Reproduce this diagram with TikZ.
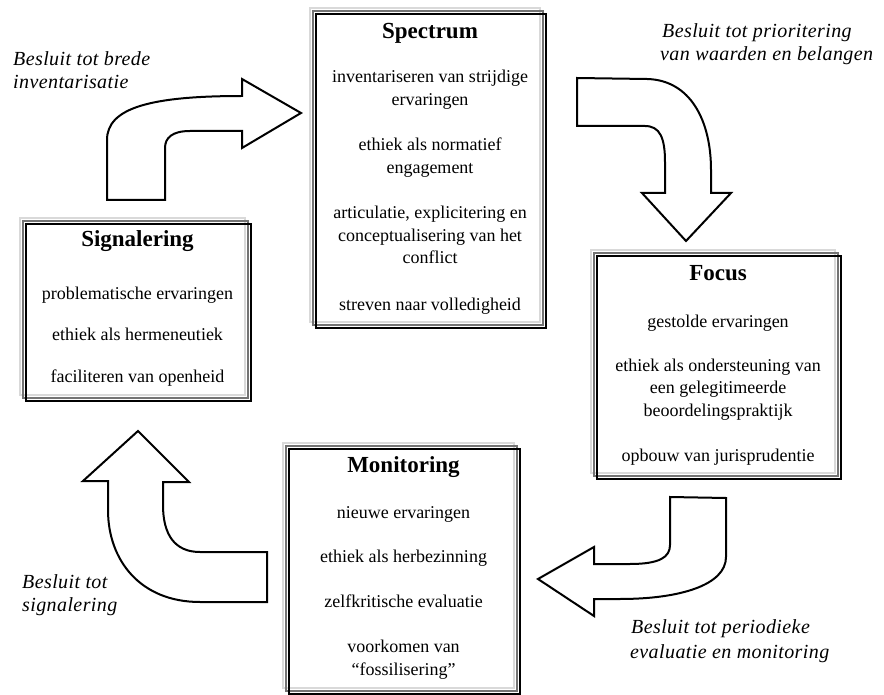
\documentclass[tikz,border=0pt]{standalone}
\usepackage{fontspec}
\setmainfont{Liberation Serif}
\begin{document}
\begin{tikzpicture}[x=1pt,y=-1pt,
  panel/.style={draw=black, line width=1.8pt, inner sep=0pt, fill=none,
    preaction={draw=black!15, line width=2pt, transform canvas={shift={(-6pt,6pt)}}},
    preaction={draw=black!55, line width=1.5pt, transform canvas={shift={(-3pt,3pt)}}}},
  blockarrow/.style={draw=black, line width=2pt, fill=white, line join=miter},
  body/.style={font=\fontsize{18}{22}\selectfont, anchor=base, inner sep=0pt},
  head/.style={font=\fontsize{23}{27}\selectfont\bfseries, anchor=base, inner sep=0pt},
  lbl/.style={font=\fontsize{20}{24}\selectfont\itshape\addfontfeatures{LetterSpace=2}, anchor=base west, inner sep=0pt}
]
\fill[white] (0,0) rectangle (884,695);
\useasboundingbox (0,0) rectangle (884,695);

% ---------- boxes ----------
\node[panel, anchor=north west, minimum width=230pt, minimum height=314pt] (spectrum) at (315,13) {};
\node[panel, anchor=north west, minimum width=225pt, minimum height=177pt] (signal) at (25,223) {};
\node[panel, anchor=north west, minimum width=244pt, minimum height=223pt] (focus) at (596,255) {};
\node[panel, anchor=north west, minimum width=231pt, minimum height=245pt] (monitor) at (288,448) {};

% ---------- Spectrum text ----------
\node[head] (sp0) at (430,39) {Spectrum};
\node[body] (sp1) at (430,83) {inventariseren van strijdige};
\node[body] (sp2) at (430,105.5) {ervaringen};
\node[body] (sp3) at (430,151) {ethiek als normatief};
\node[body] (sp4) at (430,173.5) {engagement};
\node[body] (sp5) at (430,219) {articulatie, explicitering en};
\node[body] (sp6) at (430,241.5) {conceptualisering van het};
\node[body] (sp7) at (430,264) {conflict};
\node[body] (sp8) at (430,310) {streven naar volledigheid};

% ---------- Signalering text ----------
\node[head] (si0) at (137.5,247) {Signalering};
\node[body] (si1) at (137.5,300) {problematische ervaringen};
\node[body] (si2) at (137.5,341) {ethiek als hermeneutiek};
\node[body] (si3) at (137.5,382) {faciliteren van openheid};

% ---------- Focus text ----------
\node[head] (fo0) at (718,280) {Focus};
\node[body] (fo1) at (718,327) {gestolde ervaringen};
\node[body] (fo2) at (718,371) {ethiek als ondersteuning van};
\node[body] (fo3) at (718,393.5) {een gelegitimeerde};
\node[body] (fo4) at (718,416) {beoordelingspraktijk};
\node[body] (fo5) at (718,461) {opbouw van jurisprudentie};

% ---------- Monitoring text ----------
\node[head] (mo0) at (403.5,472) {Monitoring};
\node[body] (mo1) at (403.5,518) {nieuwe ervaringen};
\node[body] (mo2) at (403.5,562) {ethiek als herbezinning};
\node[body] (mo3) at (403.5,607) {zelfkritische evaluatie};
\node[body] (mo4) at (403.5,652) {voorkomen van};
\node[body] (mo5) at (403.5,675) {``fossilisering''};

% ---------- block arrows ----------
% top-left: up then right
\draw[blockarrow] (107,200) -- (107,140) .. controls (107,108) and (150,96) .. (242,96)
  -- (242,79) -- (301,113) -- (242,148) -- (242,131) -- (190,131)
  .. controls (172,131) and (165,138) .. (165,148) -- (165,200) -- cycle;
% top-right: right then down
\draw[blockarrow] (577,78) -- (647,79) .. controls (690,80) and (711,120) .. (711,170)
  -- (711,193) -- (731,193) -- (686,241) -- (642,193) -- (665,193) -- (665,162)
  .. controls (665,138) and (660,126) .. (645,126) -- (577,126) -- cycle;
% bottom-right: down then left
\draw[blockarrow] (670,497) -- (726,498) -- (726,557) .. controls (726,585) and (680,599) .. (620,599)
  -- (594,599) -- (594,616) -- (538,579) -- (594,547) -- (594,564) -- (630,564)
  .. controls (660,564) and (670,557) .. (670,545) -- cycle;
% bottom-left: left then up
\draw[blockarrow] (267,552) -- (267,602) -- (200,602) .. controls (140,602) and (108,560) .. (108,510)
  -- (108,481) -- (83,481) -- (138,431) -- (189,482) -- (163,482) -- (163,505)
  .. controls (163,535) and (175,552) .. (200,552) -- cycle;

% ---------- labels ----------
\node[lbl] (l1a) at (13,66) {Besluit tot brede};
\node[lbl] (l1b) at (13,89) {inventarisatie};
\node[lbl] (l2a) at (662,38) {Besluit tot prioritering};
\node[lbl] (l2b) at (660,61) {van waarden en belangen};
\node[lbl] (l3a) at (631,633) {Besluit tot periodieke};
\node[lbl] (l3b) at (630,658) {evaluatie en monitoring};
\node[lbl] (l4a) at (22,588) {Besluit tot};
\node[lbl] (l4b) at (22,611) {signalering};
\end{tikzpicture}
\end{document}
